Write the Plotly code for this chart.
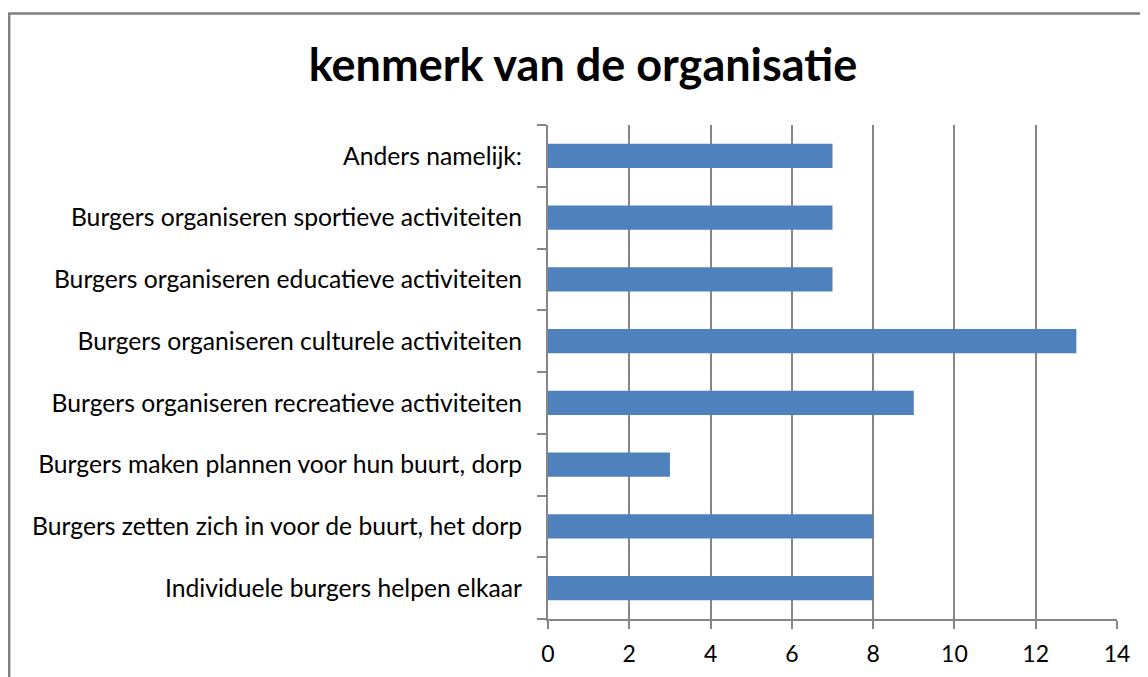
import plotly.graph_objects as go

TITLE = "kenmerk van de organisatie"

# bottom to top, as drawn
CATEGORIES = [
    "Individuele burgers helpen elkaar",
    "Burgers zetten zich in voor de buurt, het dorp",
    "Burgers maken plannen voor hun buurt, dorp",
    "Burgers organiseren recreatieve activiteiten",
    "Burgers organiseren culturele activiteiten",
    "Burgers organiseren educatieve activiteiten",
    "Burgers organiseren sportieve activiteiten",
    "Anders namelijk:",
]
VALUES = [8, 8, 3, 9, 13, 7, 7, 7]

X_TICKS = [0, 2, 4, 6, 8, 10, 12, 14]

BAR_COLOR = "#4F81BD"
AXIS_GRAY = "#868686"
FONT = "Lato"

# page body has an 8px margin, so the figure is sized to the visible area
W, H = 1140, 669

fig = go.Figure()
fig.add_trace(go.Bar(
    x=VALUES,
    y=CATEGORIES,
    orientation="h",
    marker=dict(color=BAR_COLOR, line=dict(width=0)),
    hoverinfo="x+y",
))

# outer chart border (runs off the right and bottom of the window)
fig.add_shape(
    type="rect", xref="paper", yref="paper",
    x0=-0.947, x1=1.1, y0=-0.2, y1=1.2257,
    line=dict(color="#808080", width=2.5),
    fillcolor="rgba(0,0,0,0)", layer="below",
)

fig.update_layout(
    width=W,
    height=H,
    paper_bgcolor="white",
    plot_bgcolor="white",
    showlegend=False,
    bargap=0.61,
    margin=dict(l=540, r=31, t=117, b=58, pad=0),
    font=dict(family=FONT, color="black"),
    title=dict(
        text=f"<b>{TITLE}</b>",
        x=575 / W, xanchor="center",
        y=1 - 57 / H, yanchor="middle",
        font=dict(family=FONT, size=45, color="black"),
    ),
    xaxis=dict(
        range=[0, 14],
        tickvals=X_TICKS,
        ticks="outside", ticklen=8, tickcolor=AXIS_GRAY, tickwidth=1.5,
        showgrid=True, gridcolor=AXIS_GRAY, gridwidth=1.5,
        showline=True, linecolor=AXIS_GRAY, linewidth=2,
        zeroline=False,
        tickfont=dict(family=FONT, size=23, color="black"),
        ticklabelstandoff=5,
        automargin=False,
        fixedrange=True,
    ),
    yaxis=dict(
        type="category",
        categoryorder="array", categoryarray=CATEGORIES,
        tickson="boundaries",
        ticks="outside", ticklen=9, tickcolor=AXIS_GRAY, tickwidth=1.5,
        showgrid=False,
        showline=True, linecolor=AXIS_GRAY, linewidth=2,
        tickfont=dict(family=FONT, size=24.7, color="black"),
        ticklabelstandoff=19,
        automargin=False,
        fixedrange=True,
    ),
)

fig.write_html("out.html")
